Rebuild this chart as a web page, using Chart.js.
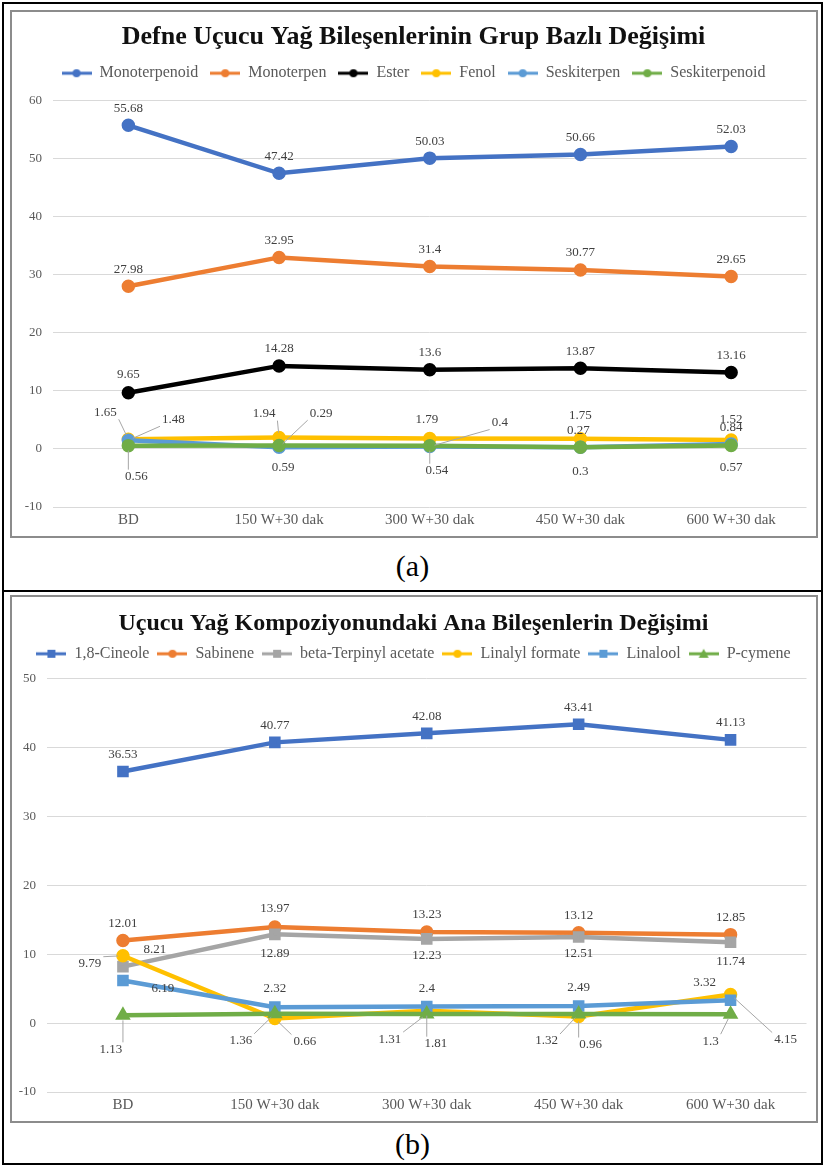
<!DOCTYPE html>
<html lang="tr">
<head>
<meta charset="utf-8">
<title>Defne uçucu yağ bileşenleri</title>
<script src="https://cdn.jsdelivr.net/npm/chart.js@4.4.1/dist/chart.umd.min.js"></script>
<style>
  html, body { margin: 0; padding: 0; background: #fff; }
  #page { position: relative; width: 825px; height: 1167px; overflow: hidden; font-family: "Liberation Serif", "Times New Roman", serif; }
  .frame { position: absolute; left: 2px; top: 2px; width: 821px; height: 1163px; border: 2px solid #000; box-sizing: border-box; }
  .rule { position: absolute; left: 2px; width: 821px; top: 590px; height: 2px; background: #000; }
  .box { position: absolute; left: 10px; width: 808px; height: 528px; border: 2px solid #8c8c8c; box-sizing: border-box; background: #fff; }
  .box canvas { display: block; }
  .cap { position: absolute; left: 0; width: 825px; text-align: center; font-size: 30px; line-height: 34px; color: #000; }
</style>
</head>
<body>
<div id="page">
  <div class="frame"></div>
  <div class="box" style="top:10px"><canvas id="chartA" width="804" height="524"></canvas></div>
  <div class="cap" style="top:549px">(a)</div>
  <div class="rule"></div>
  <div class="box" style="top:595px"><canvas id="chartB" width="804" height="524"></canvas></div>
  <div class="cap" style="top:1127px">(b)</div>
</div>
<script>
const categories = ["BD", "150 W+30 dak", "300 W+30 dak", "450 W+30 dak", "600 W+30 dak"];

// (a) group based change
const monoterpenoid = [55.68, 47.42, 50.03, 50.66, 52.03];
const monoterpen = [27.98, 32.95, 31.4, 30.77, 29.65];
const ester = [9.65, 14.28, 13.6, 13.87, 13.16];
const fenol = [1.65, 1.94, 1.79, 1.75, 1.52];
const seskiterpen = [1.48, 0.29, 0.4, 0.27, 0.84];
const seskiterpenoid = [0.56, 0.59, 0.54, 0.3, 0.57];
const ticksA = [-10, 0, 10, 20, 30, 40, 50, 60];

// (b) main components
const cineole = [36.53, 40.77, 42.08, 43.41, 41.13];
const sabinene = [12.01, 13.97, 13.23, 13.12, 12.85];
const terpinylAcetate = [8.21, 12.89, 12.23, 12.51, 11.74];
const linalylFormate = [9.79, 0.66, 1.81, 0.96, 4.15];
const linalool = [6.19, 2.32, 2.4, 2.49, 3.32];
const pCymene = [1.13, 1.36, 1.31, 1.32, 1.3];
const ticksB = [-10, 0, 10, 20, 30, 40, 50];

const SERIF = '"Liberation Serif", "Times New Roman", serif';
const TEXT = "#595959";

function legendIcon(color, shape) {
  const c = document.createElement("canvas");
  c.width = 30; c.height = 12;
  const g = c.getContext("2d");
  g.strokeStyle = color; g.lineWidth = 3;
  g.beginPath(); g.moveTo(0, 6); g.lineTo(30, 6); g.stroke();
  g.fillStyle = color;
  if (shape === "rect") {
    g.fillRect(11, 2, 8, 8);
  } else if (shape === "triangle") {
    g.beginPath(); g.moveTo(15, 1); g.lineTo(20, 10); g.lineTo(10, 10); g.closePath(); g.fill();
  } else {
    g.beginPath(); g.arc(15, 6, 4, 0, Math.PI * 2); g.fill();
  }
  return c;
}

function series(label, data, color, shape, labelAt, i) {
  return {
    label: label,
    data: data,
    borderColor: color,
    backgroundColor: color,
    pointBackgroundColor: color,
    pointBorderColor: color,
    pointStyle: shape,
    pointRadius: shape === "rect" ? 5 : 4.5,
    pointHoverRadius: 5,
    borderWidth: 4.5,
    tension: 0,
    order: 10 - i,          // later series on top, like the original
    icon: legendIcon(color, shape),
    labelAt: labelAt         // label offset from its point [dx, dy, leader]
  };
}

// data labels drawn next to each point, with thin leader lines where needed
const pointLabels = {
  id: "pointLabels",
  afterDatasetsDraw(chart) {
    const ctx = chart.ctx;
    ctx.save();
    ctx.font = "13px " + SERIF;
    ctx.textAlign = "center";
    ctx.textBaseline = "middle";
    chart.data.datasets.forEach((ds, i) => {
      const meta = chart.getDatasetMeta(i);
      meta.data.forEach((pt, j) => {
        const pos = ds.labelAt[j];
        const x = pt.x + pos[0], y = pt.y + pos[1];
        const text = String(ds.data[j]);
        const w = ctx.measureText(text).width;
        if (pos[2]) {
          const sx = Math.min(Math.max(pt.x, x - w / 2 - 2), x + w / 2 + 2);
          const sy = Math.min(Math.max(pt.y, y - 7), y + 7);
          const dx = pt.x - sx, dy = pt.y - sy;
          const d = Math.hypot(dx, dy) || 1;
          ctx.strokeStyle = "#a6a6a6";
          ctx.lineWidth = 1;
          ctx.beginPath();
          ctx.moveTo(sx, sy);
          ctx.lineTo(pt.x - dx / d * 5, pt.y - dy / d * 5);
          ctx.stroke();
        }
        ctx.fillStyle = "#404040";
        ctx.fillText(text, x, y);
      });
    });
    ctx.restore();
  }
};

// empty box between legend and plot, to push the plot area down
function spacer(h) {
  return {
    id: "spacer",
    beforeInit(chart) {
      Chart.layouts.addBox(chart, {
        position: "top", weight: 10, fullSize: true, options: {},
        width: 0, height: h,
        isHorizontal() { return true; },
        update(maxWidth) { this.width = maxWidth; this.height = h; },
        draw() {}
      });
    }
  };
}

function options(ticks, title, titleSize, titlePad, legendPad, yWidth) {
  return {
    responsive: false,
    animation: false,
    layout: { padding: { top: 0, right: 1, bottom: 3, left: 0 } },
    plugins: {
      title: {
        display: true,
        text: title,
        color: "#111111",
        font: { family: SERIF, size: titleSize, weight: "bold" },
        padding: titlePad
      },
      legend: {
        display: true,
        labels: {
          usePointStyle: true,
          pointStyleWidth: 30,
          padding: legendPad,
          color: TEXT,
          font: { family: SERIF, size: 16 },
          sort: (a, b) => a.datasetIndex - b.datasetIndex,
          generateLabels(chart) {
            const items = Chart.defaults.plugins.legend.labels.generateLabels(chart);
            items.forEach(it => { it.pointStyle = chart.data.datasets[it.datasetIndex].icon; });
            return items;
          }
        }
      },
      tooltip: { enabled: false }
    },
    scales: {
      x: {
        offset: true,
        grid: { display: false, drawTicks: false },
        border: { display: false },
        ticks: { color: TEXT, font: { family: SERIF, size: 15 }, padding: 4 }
      },
      y: {
        min: ticks[0],
        max: ticks[ticks.length - 1],
        grid: { color: "#d9d9d9", drawTicks: false },
        border: { display: false },
        ticks: { stepSize: ticks[1] - ticks[0], color: TEXT, font: { family: SERIF, size: 13 }, padding: 11 },
        afterFit(scale) { scale.width = yWidth; }
      }
    }
  };
}

const up = [0, -17];

new Chart(document.getElementById("chartA"), {
  type: "line",
  data: {
    labels: categories,
    datasets: [
      series("Monoterpenoid", monoterpenoid, "#4472C4", "circle", [up, up, up, up, up], 0),
      series("Monoterpen", monoterpen, "#ED7D31", "circle", [up, up, up, up, up], 1),
      series("Ester", ester, "#000000", "circle", [[0, -18], up, up, up, up], 2),
      series("Fenol", fenol, "#FFC000", "circle",
        [[-23, -27, 1], [-15, -24, 1], [-3, -19], [0, -23], [0, -20]], 3),
      series("Seskiterpen", seskiterpen, "#5B9BD5", "circle",
        [[45, -21, 1], [42, -34, 1], [70, -24, 1], [-2, -17], [0, -16]], 4),
      series("Seskiterpenoid", seskiterpenoid, "#70AD47", "circle",
        [[8, 31, 1], [4, 22], [7, 25, 1], [0, 24], [0, 22]], 5)
    ]
  },
  options: options(ticksA, "Defne Uçucu Yağ Bileşenlerinin Grup Bazlı Değişimi", 26, { top: 10, bottom: 0 }, 12, 41),
  plugins: [pointLabels, spacer(9)]
});

new Chart(document.getElementById("chartB"), {
  type: "line",
  data: {
    labels: categories,
    datasets: [
      series("1,8-Cineole", cineole, "#4472C4", "rect", [up, up, up, up, up], 0),
      series("Sabinene", sabinene, "#ED7D31", "circle", [up, [0, -18], up, up, up], 1),
      series("beta-Terpinyl acetate", terpinylAcetate, "#A5A5A5", "rect",
        [[32, -17], [0, 19], [0, 17], [0, 17], [0, 19]], 2),
      series("Linalyl formate", linalylFormate, "#FFC000", "circle",
        [[-33, 8, 1], [30, 23, 1], [9, 33, 1], [12, 28, 1], [55, 45, 1]], 3),
      series("Linalool", linalool, "#5B9BD5", "rect",
        [[40, 8], [0, -19], [0, -18], [0, -18], [-26, -18]], 4),
      series("P-cymene", pCymene, "#70AD47", "triangle",
        [[-12, 34, 1], [-34, 27, 1], [-37, 25, 1], [-32, 27, 1], [-20, 27, 1]], 5)
    ]
  },
  options: options(ticksB, "Uçucu Yağ Kompoziyonundaki Ana Bileşenlerin Değişimi", 24, { top: 12, bottom: 0 }, 8, 35),
  plugins: [pointLabels, spacer(7)]
});
</script>
</body>
</html>
